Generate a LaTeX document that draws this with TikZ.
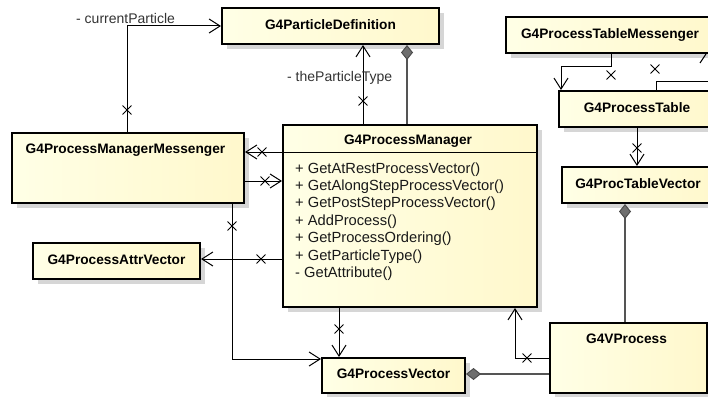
\documentclass[tikz,border=0pt]{standalone}
\usepackage{fontspec}
\setmainfont{Liberation Sans}
\usetikzlibrary{arrows.meta,shapes.misc,shadows,calc}
\definecolor{boxL}{HTML}{FFFFE6}
\definecolor{boxR}{HTML}{FFF8CC}
\definecolor{shad}{HTML}{D6D6D6}
\definecolor{aggc}{HTML}{555555}
\definecolor{diam}{HTML}{6E6E6E}
\begin{document}
\begin{tikzpicture}[x=1pt,y=-1pt,
  umlbox/.style={draw=black, line width=2pt, left color=boxL, right color=boxR,
    inner sep=0pt, anchor=north west, font=\fontsize{13.7}{16}\selectfont\bfseries,
    text height=9.8pt, text depth=3pt,
    drop shadow={shadow xshift=5pt, shadow yshift=-5pt, fill=shad, opacity=1}},
  boxtitle/.style={font=\fontsize{13.7}{16}\selectfont\bfseries, inner sep=0pt, anchor=base},
  member/.style={font=\fontsize{14.7}{17}\selectfont, inner sep=0pt, anchor=base west, text=black!90},
  rolelabel/.style={font=\fontsize{14}{17}\selectfont, inner sep=0pt, anchor=base west, text=black!80},
  arr/.style={draw=black, line width=1pt, -{Straight Barb[length=11pt,width=14pt,line width=1pt]}},
  assoc/.style={draw=black, line width=1pt},
  agg/.style={draw=aggc, line width=1.5pt, {Diamond[length=15pt,width=12pt,fill=diam,color=black!70,line width=1pt]}-},
  xmark/.style={cross out, draw=black, line width=0.9pt, minimum size=8pt, inner sep=0pt}
]
\clip (0,0) rectangle (708,396);
\fill[white] (0,0) rectangle (708,396);

% boxes
\node[umlbox, minimum width=217pt, minimum height=36pt] (pd) at (221,7) {G4ParticleDefinition};
\node[umlbox, minimum width=208pt, minimum height=36pt] (ptm) at (505,16) {G4ProcessTableMessenger};
\node[umlbox, minimum width=156pt, minimum height=36pt] (pt) at (558,90) {G4ProcessTable};
\node[umlbox, minimum width=152pt, minimum height=36pt] (ptv) at (561,166) {G4ProcTableVector};
\node[umlbox, minimum width=254pt, minimum height=182pt] (pm) at (282,124) {};
\node[umlbox, minimum width=232pt, minimum height=70pt] (pmm) at (11,132) {};
\node[umlbox, minimum width=167pt, minimum height=36pt] (pav) at (32,242) {G4ProcessAttrVector};
\node[umlbox, minimum width=143pt, minimum height=35pt] (pv) at (321,357) {G4ProcessVector};
\node[umlbox, minimum width=157pt, minimum height=70pt] (vp) at (549,322) {};

% titles of tall boxes
\node[boxtitle] (pm-t) at (408,144) {G4ProcessManager};
\node[boxtitle] (pmm-t) at (125.5,153) {G4ProcessManagerMessenger};
\node[boxtitle] (vp-t) at (626.5,343) {G4VProcess};
\draw[line width=1pt] (pm.west |- 0,152) -- (pm.east |- 0,152);

% members
\foreach \t [count=\i] in {+ GetAtRestProcessVector(), + GetAlongStepProcessVector(),
  + GetPostStepProcessVector(), + AddProcess(), + GetProcessOrdering(),
  + GetParticleType(), - GetAttribute()}
  \node[member] (m\i) at (295,{173+17.4*(\i-1)}) {\t};

% connectors
\draw[arr] ($(pmm.north west)+(116,0)$) |- (pd.west);
\node[rolelabel] (lcp) at (76,24) {- currentParticle};
\node[xmark] (x1) at (127,110) {};

\draw[arr] (pm.north -| 363,0) -- (pd.south -| 363,0);
\node[rolelabel] (lpt) at (287,81) {- theParticleType};
\node[xmark] (x2) at (363,101) {};

\draw[agg] (pd.south -| 407,0) -- (pm.north -| 407,0);

\draw[arr] (pm.west |- 0,152) -- (pmm.east |- 0,152);
\node[xmark] (x3) at (262,152) {};
\draw[arr] (pmm.east |- 0,181) -- (pm.west |- 0,181);
\node[xmark] (x4) at (265,181) {};
\draw[arr] (pm.west |- 0,259) -- (pav.east |- 0,259);
\node[xmark] (x5) at (261,259) {};

\draw[arr] (pmm.south -| 232,0) |- (pv.west |- 0,359);
\node[xmark] (x6) at (232,226) {};
\draw[arr] (pm.south -| 339,0) -- (pv.north -| 339,0);
\node[xmark] (x7) at (339,329) {};
\draw[arr] (vp.west |- 0,358) -| (pm.south -| 515,0);
\node[xmark] (x8) at (527,358) {};

\draw[agg] (pv.east |- 0,374) -- (vp.west |- 0,374);
\draw[agg] (ptv.south -| 625,0) -- (vp.north -| 625,0);

\draw[arr] (pt.south -| 637,0) -- (ptv.north -| 637,0);
\node[xmark] (x9) at (637,148) {};

\draw[arr] (ptm.south -| 611,0) -- (611,66) -| (pt.north -| 561,0);
\node[xmark] (x10) at (611,75) {};

\coordinate (e1) at (715,81);
\draw[assoc] (pt.north -| 656,0) |- (e1);
\node[xmark] (x11) at (655,69) {};

\coordinate (e2) at (700,63);
\draw[assoc] (e2) -- (ptm.south -| 706,0);
\end{tikzpicture}
\end{document}
